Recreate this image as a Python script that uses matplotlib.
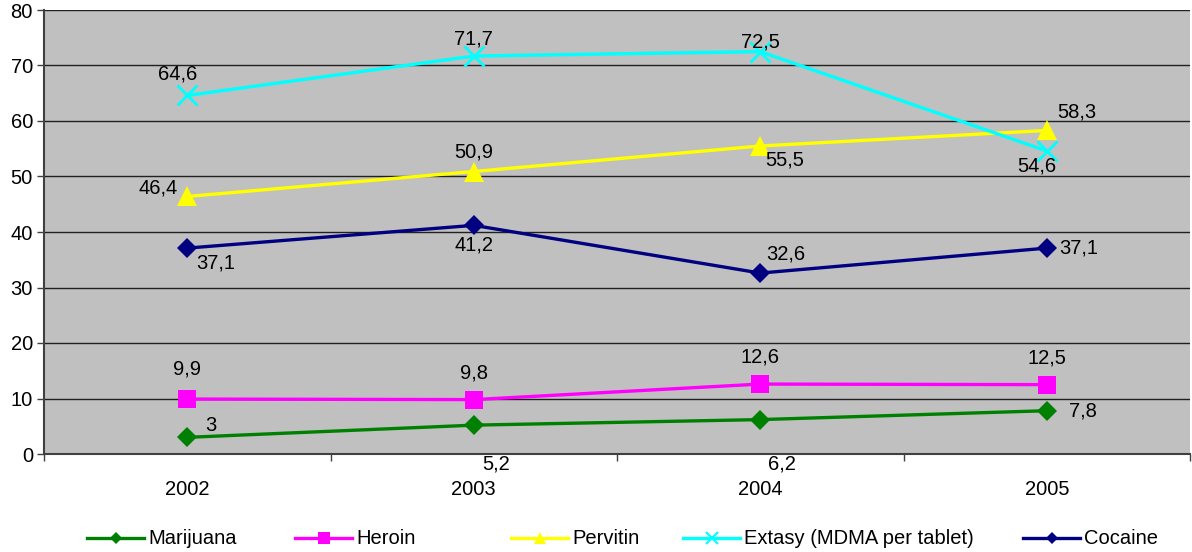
import matplotlib
matplotlib.use("Agg")
import matplotlib.pyplot as plt
from matplotlib.lines import Line2D

plt.rcParams['font.family'] = ['Liberation Sans', 'DejaVu Sans']

years = ["2002", "2003", "2004", "2005"]
marijuana = [3, 5.2, 6.2, 7.8]
heroin = [9.9, 9.8, 12.6, 12.5]
pervitin = [46.4, 50.9, 55.5, 58.3]
extasy = [64.6, 71.7, 72.5, 54.6]
cocaine = [37.1, 41.2, 32.6, 37.1]

W, H = 1192, 552
FS = 14.5

# (name, values, colour, marker, size, label offsets in px, legend x in px)
series = [
    ("Marijuana", marijuana, "#008000", "D", 10, [(24, 12), (22, -39), (22, -44), (36, 0)], 87),
    ("Heroin", heroin, "#FF00FF", "s", 13, [(0, 30), (0, 27), (0, 27), (0, 27)], 295),
    ("Pervitin", pervitin, "#FFFF00", "^", 14, [(-29, 8), (0, 20), (24, -14), (30, 18)], 511),
    ("Extasy (MDMA per tablet)", extasy, "#00FFFF", "x", 14, [(-10, 21), (0, 17), (0, 10), (-10, -15)], 683),
    ("Cocaine", cocaine, "#000080", "D", 10, [(28, -15), (0, -20), (26, 19), (32, 0)], 1023),
]

fig = plt.figure(figsize=(W / 100, H / 100), dpi=100)
ax = fig.add_axes([44 / W, 98 / H, 1146 / W, 444 / H])
ax.set_facecolor("#C0C0C0")

x = range(len(years))
for name, vals, col, mk, ms, offs, lx in series:
    mew = 2 if mk == "x" else 0
    ax.plot(x, vals, color=col, lw=2.4, marker=mk, ms=ms, markeredgewidth=mew, zorder=3)
    for xi, v, (dx, dy) in zip(x, vals, offs):
        ax.annotate(str(v).replace(".", ","), (xi, v), xytext=(dx * 0.72, dy * 0.72),
                    textcoords="offset points", ha="center", va="center",
                    fontsize=FS, color="black", zorder=4)
    # legend entry
    ly = 1 - 538 / H
    fig.add_artist(Line2D([lx / W, (lx + 57) / W], [ly, ly], color=col, lw=2.4))
    fig.add_artist(Line2D([(lx + 28.5) / W], [ly], color=col, marker=mk, ms=ms * 0.62,
                          markeredgewidth=1.5 if mk == "x" else 0))
    fig.text((lx + 61) / W, ly, name, fontsize=FS, va="center", ha="left")

ax.set_xlim(-0.5, 3.5)
ax.set_ylim(0, 80)
ax.set_yticks(range(0, 81, 10))
ax.set_xticks(x)
ax.set_xticklabels(years)
ax.set_xticks([-0.5, 0.5, 1.5, 2.5, 3.5], minor=True)
ax.tick_params(axis="x", which="major", length=0, pad=19, labelsize=FS)
ax.tick_params(axis="x", which="minor", length=5, width=1, color="#404040", direction="out")
ax.tick_params(axis="y", length=5, width=1, color="#404040", labelsize=FS, pad=3)
ax.grid(axis="y", color="#202020", lw=1)
ax.set_axisbelow(True)
for s in ["top", "right"]:
    ax.spines[s].set_visible(False)
for s in ["left", "bottom"]:
    ax.spines[s].set_color("#404040")
    ax.spines[s].set_linewidth(1.5)

fig.savefig("out.png", dpi=100)
